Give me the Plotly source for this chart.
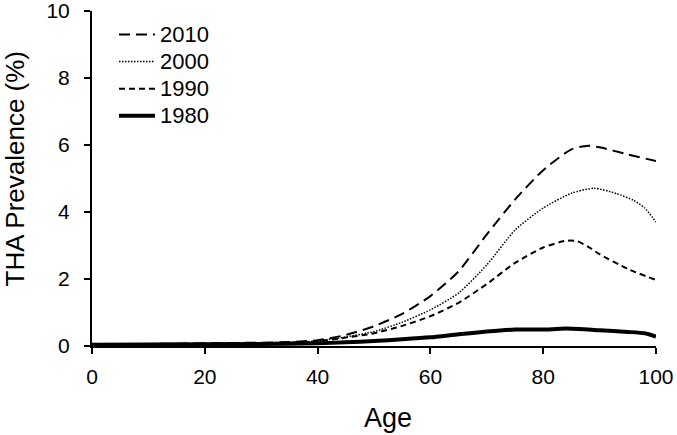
import plotly.graph_objects as go

ages_2010 = [0, 10, 20, 30, 35, 40, 45, 50, 55, 60, 65, 70, 75, 80, 85, 88, 90, 95, 100]
prev_2010 = [0.05, 0.06, 0.08, 0.10, 0.12, 0.17, 0.33, 0.59, 0.96, 1.49, 2.23, 3.33, 4.37, 5.25, 5.87, 5.98, 5.93, 5.72, 5.52]

ages_2000 = [0, 10, 20, 30, 35, 40, 45, 50, 55, 60, 65, 70, 75, 80, 85, 89, 93, 96, 98, 100]
prev_2000 = [0.05, 0.06, 0.07, 0.09, 0.11, 0.15, 0.27, 0.43, 0.71, 1.08, 1.58, 2.42, 3.46, 4.12, 4.56, 4.71, 4.55, 4.35, 4.12, 3.70]

ages_1990 = [0, 10, 20, 30, 35, 40, 45, 50, 55, 60, 65, 70, 75, 80, 84, 86, 88, 90, 95, 100]
prev_1990 = [0.05, 0.06, 0.07, 0.09, 0.10, 0.14, 0.25, 0.38, 0.60, 0.89, 1.29, 1.85, 2.48, 2.94, 3.14, 3.13, 2.96, 2.74, 2.30, 1.97]

ages_1980 = [0, 20, 30, 40, 45, 50, 55, 60, 65, 70, 75, 80, 84, 90, 95, 98, 100]
prev_1980 = [0.04, 0.05, 0.06, 0.08, 0.11, 0.15, 0.20, 0.26, 0.35, 0.43, 0.49, 0.49, 0.52, 0.47, 0.42, 0.38, 0.28]

x_ticks = [0, 20, 40, 60, 80, 100]
y_ticks = [0, 2, 4, 6, 8, 10]

FONT = "Liberation Sans, Arial, sans-serif"


def leg(name):
    return '<span style="font-size:22px">' + name + '</span>'


fig = go.Figure()
fig.add_trace(go.Scatter(x=ages_2010, y=prev_2010, mode="lines", name=leg("2010"),
                         line=dict(color="black", width=2, dash="11px,6px", shape="spline", smoothing=0.6)))
fig.add_trace(go.Scatter(x=ages_2000, y=prev_2000, mode="lines", name=leg("2000"),
                         line=dict(color="black", width=1.5, dash="1.5px,1.5px", shape="spline", smoothing=0.6)))
fig.add_trace(go.Scatter(x=ages_1990, y=prev_1990, mode="lines", name=leg("1990"),
                         line=dict(color="black", width=2, dash="6px,4px", shape="spline", smoothing=0.6)))
fig.add_trace(go.Scatter(x=ages_1980, y=prev_1980, mode="lines", name=leg("1980"),
                         line=dict(color="black", width=4, shape="spline", smoothing=0.6)))

axis_common = dict(showline=True, linecolor="black", linewidth=2, showgrid=False, zeroline=False,
                   ticks="outside", ticklen=6, tickwidth=2, tickcolor="black", automargin=False,
                   ticklabeloverflow="allow",
                   tickfont=dict(family=FONT, size=21, color="black"))

fig.update_xaxes(range=[0, 100], tickvals=x_ticks, ticklabelstandoff=5, **axis_common)
fig.update_yaxes(range=[0, 10], tickvals=y_ticks, ticklabelstandoff=10, **axis_common)

W, H = 677, 435
L, R, T, B = 92, 21, 11, 89
pw = W - L - R
ph = H - T - B

fig.update_layout(
    width=W, height=H,
    margin=dict(l=L, r=R, t=T, b=B, autoexpand=False),
    paper_bgcolor="white", plot_bgcolor="white",
    font=dict(family=FONT, color="black"),
    showlegend=True,
    legend=dict(x=(114 - L) / pw, y=(H - B - 16) / ph, xanchor="left", yanchor="top",
                bgcolor="rgba(0,0,0,0)",
                font=dict(family=FONT, size=18.5, color="black"), tracegroupgap=0,
                traceorder="normal", itemwidth=36),
    annotations=[
        dict(text="Age", x=(387.5 - L) / pw, y=(H - B - 418) / ph, xref="paper", yref="paper",
             showarrow=False, xanchor="center", yanchor="middle",
             font=dict(family=FONT, size=27, color="black")),
        dict(text="THA Prevalence (%)", x=(14 - L) / pw, y=(H - B - 168.5) / ph, xref="paper", yref="paper",
             showarrow=False, textangle=-90, xanchor="center", yanchor="middle",
             font=dict(family=FONT, size=26, color="black")),
    ],
)

fig.write_html("out.html", config={"displayModeBar": False},
               post_script="document.body.style.margin='0';")
